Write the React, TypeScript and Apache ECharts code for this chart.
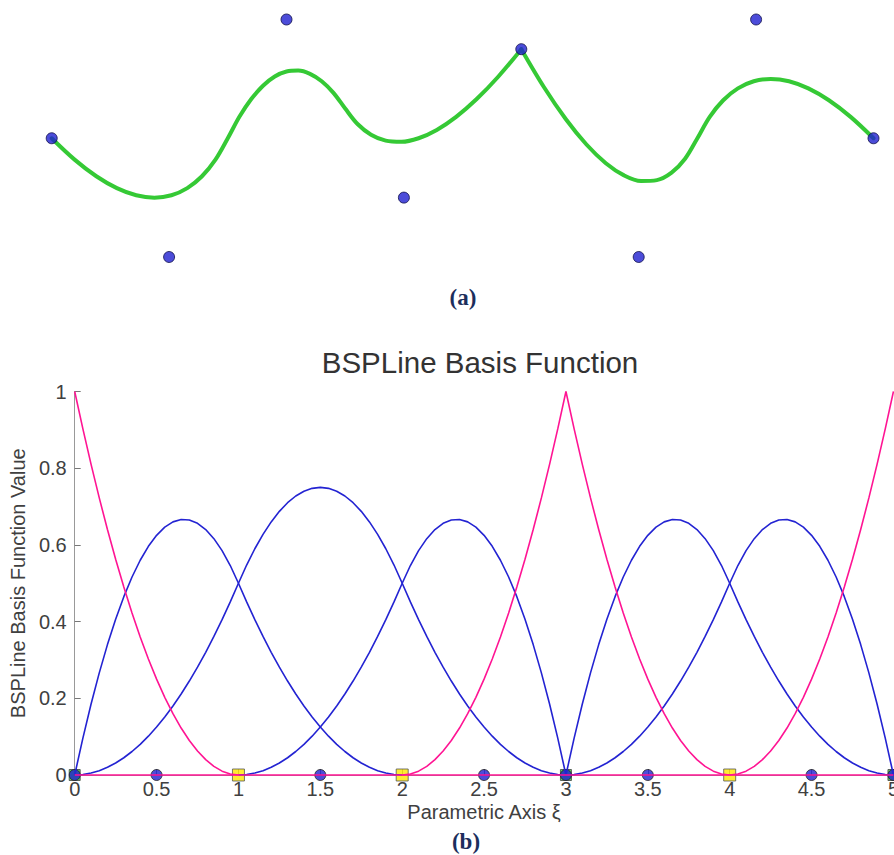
import React, { useEffect, useRef } from "react";
import * as echarts from "echarts";

// ---------- (a) B-spline curve and its control points ----------
const CTRL_X = [0, 1, 2, 3, 4, 5, 6, 7];
const CTRL_Y = [0, -1, 1, -0.5, 0.75, -1, 1, 0];

// curve read along its length, first part (up to the cusp at the 5th control point)
const CURVE_A_X = [0, 0.195, 0.38, 0.555, 0.72, 0.875, 1.02, 1.155, 1.28, 1.395, 1.5, 1.6, 1.7, 1.8, 1.9, 2.0, 2.1, 2.2, 2.3, 2.4, 2.5, 2.605, 2.72, 2.845, 2.98, 3.125, 3.28, 3.445, 3.62, 3.805, 4];
const CURVE_A_Y = [0, -0.18, -0.32, -0.42, -0.48, -0.5, -0.48, -0.42, -0.32, -0.18, 0, 0.1825, 0.33, 0.4425, 0.52, 0.5625, 0.57, 0.5425, 0.48, 0.3825, 0.25, 0.12, 0.03, -0.02, -0.03, 0, 0.07, 0.18, 0.33, 0.52, 0.75];
// second part (after the cusp)
const CURVE_B_X = [4, 4.195, 4.38, 4.555, 4.72, 4.875, 5.02, 5.155, 5.28, 5.395, 5.5, 5.605, 5.72, 5.845, 5.98, 6.125, 6.28, 6.445, 6.62, 6.805, 7];
const CURVE_B_Y = [0.75, 0.4275, 0.16, -0.0525, -0.21, -0.3125, -0.36, -0.3525, -0.29, -0.1725, 0, 0.18, 0.32, 0.42, 0.48, 0.5, 0.48, 0.42, 0.32, 0.18, 0];

// ---------- (b) basis functions, sampled every SAMPLE_STEP from their start ----------
const SAMPLE_STEP = 0.05;
const N0_START = 0;
const N0 = [1, 0.9025, 0.81, 0.7225, 0.64, 0.5625, 0.49, 0.4225, 0.36, 0.3025, 0.25, 0.2025, 0.16, 0.1225, 0.09, 0.0625, 0.04, 0.0225, 0.01, 0.0025, 0];
const N1_START = 0;
const N1 = [0, 0.09625, 0.185, 0.26625, 0.34, 0.40625, 0.465, 0.51625, 0.56, 0.59625, 0.625, 0.64625, 0.66, 0.66625, 0.665, 0.65625, 0.64, 0.61625, 0.585, 0.54625, 0.5,
  0.45125, 0.405, 0.36125, 0.32, 0.28125, 0.245, 0.21125, 0.18, 0.15125, 0.125, 0.10125, 0.08, 0.06125, 0.045, 0.03125, 0.02, 0.01125, 0.005, 0.00125, 0];
const N2_START = 0;
const N2 = [0, 0.00125, 0.005, 0.01125, 0.02, 0.03125, 0.045, 0.06125, 0.08, 0.10125, 0.125, 0.15125, 0.18, 0.21125, 0.245, 0.28125, 0.32, 0.36125, 0.405, 0.45125, 0.5,
  0.5475, 0.59, 0.6275, 0.66, 0.6875, 0.71, 0.7275, 0.74, 0.7475, 0.75, 0.7475, 0.74, 0.7275, 0.71, 0.6875, 0.66, 0.6275, 0.59, 0.5475, 0.5,
  0.45125, 0.405, 0.36125, 0.32, 0.28125, 0.245, 0.21125, 0.18, 0.15125, 0.125, 0.10125, 0.08, 0.06125, 0.045, 0.03125, 0.02, 0.01125, 0.005, 0.00125, 0];
const N3_START = 1;
const N3 = [0, 0.00125, 0.005, 0.01125, 0.02, 0.03125, 0.045, 0.06125, 0.08, 0.10125, 0.125, 0.15125, 0.18, 0.21125, 0.245, 0.28125, 0.32, 0.36125, 0.405, 0.45125, 0.5,
  0.54625, 0.585, 0.61625, 0.64, 0.65625, 0.665, 0.66625, 0.66, 0.64625, 0.625, 0.59625, 0.56, 0.51625, 0.465, 0.40625, 0.34, 0.26625, 0.185, 0.09625, 0];
const N4_LEFT_START = 2;
const N4_LEFT = [0, 0.0025, 0.01, 0.0225, 0.04, 0.0625, 0.09, 0.1225, 0.16, 0.2025, 0.25, 0.3025, 0.36, 0.4225, 0.49, 0.5625, 0.64, 0.7225, 0.81, 0.9025, 1];
const N4_RIGHT_START = 3;
const N4_RIGHT = [1, 0.9025, 0.81, 0.7225, 0.64, 0.5625, 0.49, 0.4225, 0.36, 0.3025, 0.25, 0.2025, 0.16, 0.1225, 0.09, 0.0625, 0.04, 0.0225, 0.01, 0.0025, 0];
const N5_START = 3;
const N5 = [0, 0.09625, 0.185, 0.26625, 0.34, 0.40625, 0.465, 0.51625, 0.56, 0.59625, 0.625, 0.64625, 0.66, 0.66625, 0.665, 0.65625, 0.64, 0.61625, 0.585, 0.54625, 0.5,
  0.45125, 0.405, 0.36125, 0.32, 0.28125, 0.245, 0.21125, 0.18, 0.15125, 0.125, 0.10125, 0.08, 0.06125, 0.045, 0.03125, 0.02, 0.01125, 0.005, 0.00125, 0];
const N6_START = 3;
const N6 = [0, 0.00125, 0.005, 0.01125, 0.02, 0.03125, 0.045, 0.06125, 0.08, 0.10125, 0.125, 0.15125, 0.18, 0.21125, 0.245, 0.28125, 0.32, 0.36125, 0.405, 0.45125, 0.5,
  0.54625, 0.585, 0.61625, 0.64, 0.65625, 0.665, 0.66625, 0.66, 0.64625, 0.625, 0.59625, 0.56, 0.51625, 0.465, 0.40625, 0.34, 0.26625, 0.185, 0.09625, 0];
const N7_START = 4;
const N7 = [0, 0.0025, 0.01, 0.0225, 0.04, 0.0625, 0.09, 0.1225, 0.16, 0.2025, 0.25, 0.3025, 0.36, 0.4225, 0.49, 0.5625, 0.64, 0.7225, 0.81, 0.9025, 1];
const BASELINE_X = [0, 5];

// markers on the parametric axis
const DOT_XI = [0, 0.5, 1.5, 2.5, 3, 3.5, 4.5, 5];
const KNOT_XI = [1, 2, 4];
const END_KNOT_XI = [0, 3, 5];

const TITLE = "BSPLine Basis Function";
const X_NAME = "Parametric Axis ξ";
const Y_NAME = "BSPLine Basis Function Value";

const SANS = "'Liberation Sans', Arial, sans-serif";
const SERIF = "'Liberation Serif', 'Times New Roman', serif";
const BLUE = "#2323d2";
const PINK = "#ff1493";
const GREEN = "#35c935";
const TEXT = "#404040";

function sampled(start: number, values: number[]) {
  return values.map((v, i) => [Number((start + i * SAMPLE_STEP).toFixed(4)), v]);
}
function zip(xs: number[], ys: number[]) {
  return xs.map((x, i) => [x, ys[i]]);
}

export default function App() {
  const ref = useRef<HTMLDivElement>(null);
  useEffect(() => {
    if (!ref.current) return;
    const chart = echarts.init(ref.current, undefined, { renderer: "svg" });

    const basisLine = (data: number[][], color: string, z: number) => ({
      type: "line",
      xAxisIndex: 1,
      yAxisIndex: 1,
      data,
      symbol: "none",
      smooth: false,
      lineStyle: { color, width: 1.6 },
      z,
      silent: true,
      clip: false,
    });

    const blue = [
      sampled(N1_START, N1),
      sampled(N2_START, N2),
      sampled(N3_START, N3),
      sampled(N5_START, N5),
      sampled(N6_START, N6),
    ].map((d) => basisLine(d, BLUE, 4));
    const pink = [
      sampled(N0_START, N0),
      sampled(N4_LEFT_START, N4_LEFT),
      sampled(N4_RIGHT_START, N4_RIGHT),
      sampled(N7_START, N7),
    ].map((d) => basisLine(d, PINK, 5));
    const baseline = basisLine(BASELINE_X.map((x) => [x, 0]), PINK, 5);

    const curveLine = (data: number[][]) => ({
      type: "line",
      xAxisIndex: 0,
      yAxisIndex: 0,
      data,
      symbol: "none",
      smooth: 0.34,
      lineStyle: { color: GREEN, width: 4, join: "round", cap: "round" },
      z: 2,
      clip: false,
    });

    const option: any = {
      animation: false,
      graphic: [
        {
          type: "text",
          x: 480,
          y: 362,
          style: {
            text: TITLE,
            font: `29.5px ${SANS}`,
            fill: "#333333",
            textAlign: "center",
            textVerticalAlign: "middle",
          },
        },
        {
          type: "text",
          x: 463,
          y: 297,
          style: {
            text: "(a)",
            font: `bold 23px ${SERIF}`,
            fill: "#1c2e5c",
            textAlign: "center",
            textVerticalAlign: "middle",
          },
        },
        {
          type: "text",
          x: 466,
          y: 841,
          style: {
            text: "(b)",
            font: `bold 23px ${SERIF}`,
            fill: "#1c2e5c",
            textAlign: "center",
            textVerticalAlign: "middle",
          },
        },
      ],
      grid: [
        { left: 51.7, top: 19.5, width: 821.8, height: 237.5 },
        { left: 71.7, top: 391.5, width: 823.5, height: 383.5 },
      ],
      xAxis: [
        { gridIndex: 0, type: "value", min: 0, max: 7, show: false },
        {
          gridIndex: 1,
          type: "value",
          min: 0,
          max: 5,
          interval: 0.5,
          name: X_NAME,
          nameLocation: "middle",
          nameGap: 27,
          nameTextStyle: { fontFamily: SANS, fontSize: 20, color: TEXT },
          axisLine: { show: true, lineStyle: { color: "#999999", width: 1 } },
          axisTick: { show: true, inside: true, length: 6, lineStyle: { color: "#777777" } },
          axisLabel: { fontFamily: SANS, fontSize: 20, color: TEXT, margin: 4 },
          splitLine: { show: false },
        },
      ],
      yAxis: [
        { gridIndex: 0, type: "value", min: -1, max: 1, show: false },
        {
          gridIndex: 1,
          type: "value",
          min: 0,
          max: 1,
          interval: 0.2,
          name: Y_NAME,
          nameLocation: "middle",
          nameGap: 31,
          nameTextStyle: { fontFamily: SANS, fontSize: 20, color: TEXT },
          axisLine: { show: true, lineStyle: { color: "#999999", width: 1 } },
          axisTick: { show: true, inside: true, length: 6, lineStyle: { color: "#777777" } },
          axisLabel: { fontFamily: SANS, fontSize: 20, color: TEXT, margin: 8 },
          splitLine: { show: false },
        },
      ],
      series: [
        // (a)
        curveLine(zip(CURVE_A_X, CURVE_A_Y)),
        curveLine(zip(CURVE_B_X, CURVE_B_Y)),
        {
          type: "scatter",
          xAxisIndex: 0,
          yAxisIndex: 0,
          data: zip(CTRL_X, CTRL_Y),
          symbol: "circle",
          symbolSize: 11,
          itemStyle: { color: "#1f1fcf", borderColor: "#10104a", borderWidth: 1 },
          z: 3,
          clip: false,
        },
        // (b) markers
        {
          type: "scatter",
          xAxisIndex: 1,
          yAxisIndex: 1,
          data: END_KNOT_XI.map((x) => [x, 0]),
          symbol: "rect",
          symbolSize: 11,
          itemStyle: { color: GREEN, borderColor: "#444444", borderWidth: 1 },
          z: 1,
          clip: false,
        },
        {
          type: "scatter",
          xAxisIndex: 1,
          yAxisIndex: 1,
          data: KNOT_XI.map((x) => [x, 0]),
          symbol: "rect",
          symbolSize: 12,
          itemStyle: { color: "#ffe600", borderColor: "#555555", borderWidth: 1 },
          z: 2,
          clip: false,
        },
        {
          type: "scatter",
          xAxisIndex: 1,
          yAxisIndex: 1,
          data: DOT_XI.map((x) => [x, 0]),
          symbol: "circle",
          symbolSize: 11,
          itemStyle: { color: "#1f1fcf", borderColor: "#222222", borderWidth: 1 },
          z: 3,
          clip: false,
        },
        ...blue,
        ...pink,
        baseline,
      ],
    };
    chart.setOption(option);
    return () => chart.dispose();
  }, []);

  return (
    <div style={{ position: "absolute", left: 0, top: 0, width: 894, height: 855, overflow: "hidden", background: "#ffffff" }}>
      <div ref={ref} style={{ width: 902, height: 855 }} />
    </div>
  );
}
